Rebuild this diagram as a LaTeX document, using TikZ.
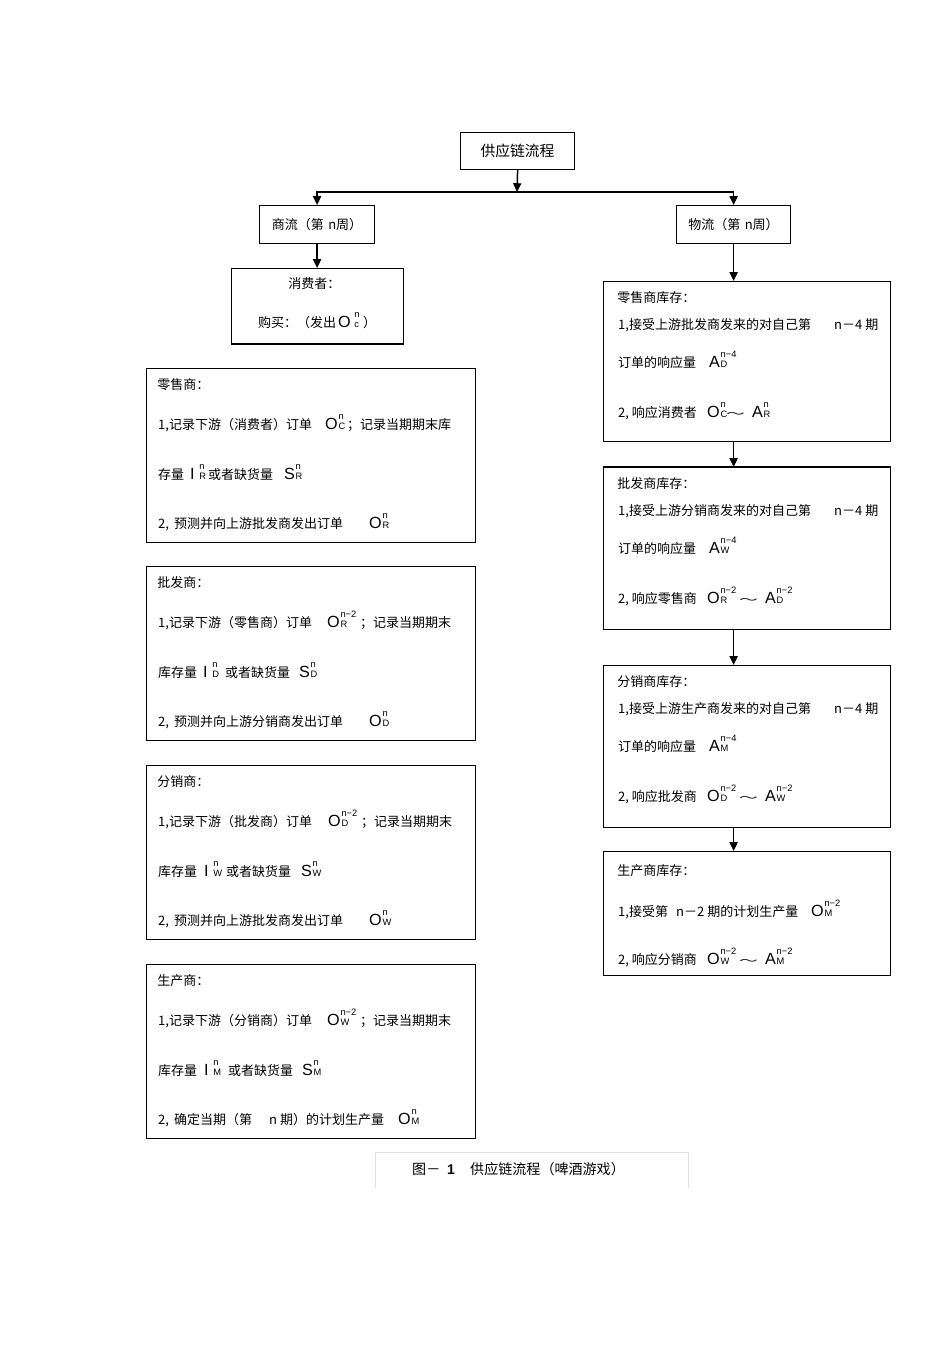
\documentclass[tikz,border=0pt]{standalone}
\usepackage{fontspec}
\setmainfont{Noto Sans CJK SC}
\newfontfamily\lat{Liberation Sans}
\usetikzlibrary{arrows.meta}
\newlength\pxu \setlength\pxu{0.02cm}
\newcommand\At[2]{\rlap{\hskip#1\pxu\relax #2}}
\newcommand\scrf{\lat\fontsize{5.3}{5.3}\selectfont}
\newcommand\Scr[2]{\setbox0\hbox{\scrf #1}\setbox2\hbox{\scrf #2}%
  \dimen0=\wd0 \ifdim\wd2>\dimen0 \dimen0=\wd2 \fi
  \hbox to\dimen0{\rlap{\raise-0.3pt\box0}\raise5.4pt\box2\hss}}
\newcommand\Sy[4][0.4pt]{{\lat\fontsize{9.2}{9.2}\selectfont #2}\kern#1\Scr{#3}{#4}}
\newcommand\Tld{\scalebox{1.45}[0.75]{～}}
\tikzset{
  box/.style={draw, line width=0.7pt, inner sep=0pt, anchor=north west, font=\fontsize{7.4}{9}\selectfont},
  txt/.style={anchor=base west, inner sep=0pt, font=\fontsize{7.4}{9}\selectfont},
  arr/.style={line width=0.85pt, -{Triangle[length=5pt,width=4.6pt]}},
  capline/.style={draw=black!12, line width=0.5pt}
}
\begin{document}
\begin{tikzpicture}[x=0.02cm, y=-0.02cm]
\useasboundingbox (0,0) rectangle (950,1345);
\fill[white] (0,0) rectangle (950,1345);

% boxes
\node[box, minimum width=2.28cm, minimum height=0.74cm, font=\fontsize{8.4}{10}\selectfont] (top) at (460,132) {供应链流程};
\node[box, minimum width=2.30cm, minimum height=0.76cm] (shang) at (259,205) {商流（第\,\,n周）};
\node[box, minimum width=2.28cm, minimum height=0.76cm] (wuliu) at (676,205) {物流（第\,\,n周）};
\node[box, minimum width=3.44cm, minimum height=1.50cm] (cons) at (231,268) {};
\node[box, minimum width=5.74cm, minimum height=3.20cm] (rR) at (603,281) {};
\node[box, minimum width=5.74cm, minimum height=3.24cm] (rW) at (603,467) {};
\node[box, minimum width=5.74cm, minimum height=3.24cm] (rD) at (603,665) {};
\node[box, minimum width=5.74cm, minimum height=2.48cm] (rM) at (603,851) {};
\node[box, minimum width=6.58cm, minimum height=3.48cm] (lR) at (146,368) {};
\node[box, minimum width=6.58cm, minimum height=3.48cm] (lW) at (146,566) {};
\node[box, minimum width=6.58cm, minimum height=3.48cm] (lD) at (146,765) {};
\node[box, minimum width=6.58cm, minimum height=3.48cm] (lM) at (146,964) {};
\node[inner sep=0pt, minimum width=6.26cm, minimum height=0.70cm, anchor=north west] (capbox) at (375,1152) {};
\draw[line width=1.2pt] (cons.south west) -- (cons.south east);
\draw[line width=1.2pt] (rW.north west) -- (rW.north east);
\draw[capline] (capbox.south west) |- (capbox.north east) -- (capbox.south east);

% connectors
\coordinate (jn) at (517,192);
\draw[arr] (top.south) -- (jn);
\draw[arr] (jn) -| (shang.north);
\draw[arr] (jn) -| (wuliu.north);
\draw[arr] (shang.south) -- (shang.south |- cons.north);
\draw[arr] (wuliu.south) -- (wuliu.south |- rR.north);
\draw[arr] (wuliu.south |- rR.south) -- (wuliu.south |- rW.north);
\draw[arr] (wuliu.south |- rW.south) -- (wuliu.south |- rD.north);
\draw[arr] (wuliu.south |- rD.south) -- (wuliu.south |- rM.north);

% consumer
\node[txt] (consA) at (288,288) {消费者：};
\node[txt] (consB) at (257,327) {\At{0}{购买：（发出}\At{80}{\Sy[2pt]{O}{c}{n}}\At{105}{）}};

% left: retailer
\node[txt] (lR1) at (157,389) {零售商：};
\node[txt] (lR2) at (157,429) {\At{0}{1,记录下游（消费者）订单}\At{167}{\Sy{O}{C}{n}}\At{189}{；记录当期期末库}};
\node[txt] (lR3) at (157,479) {\At{0}{存量}\At{32}{\Sy[2.6pt]{I}{R}{n}}\At{50}{或者缺货量}\At{126}{\Sy{S}{R}{n}}};
\node[txt] (lR4) at (157,528) {\At{0}{2,\, 预测并向上游批发商发出订单}\At{211}{\Sy{O}{R}{n}}};

% left: wholesaler
\node[txt] (lW1) at (157,587) {批发商：};
\node[txt] (lW2) at (157,627) {\At{0}{1,记录下游（零售商）订单}\At{169}{\Sy{O}{R}{n−2}}\At{202}{；记录当期期末}};
\node[txt] (lW3) at (157,677) {\At{0}{库存量}\At{45}{\Sy[2.6pt]{I}{D}{n}}\At{67}{或者缺货量}\At{141}{\Sy{S}{D}{n}}};
\node[txt] (lW4) at (157,726) {\At{0}{2,\, 预测并向上游分销商发出订单}\At{211}{\Sy{O}{D}{n}}};

% left: distributor
\node[txt] (lD1) at (157,786) {分销商：};
\node[txt] (lD2) at (157,826) {\At{0}{1,记录下游（批发商）订单}\At{170}{\Sy{O}{D}{n−2}}\At{203}{；记录当期期末}};
\node[txt] (lD3) at (157,876) {\At{0}{库存量}\At{46}{\Sy[2.6pt]{I}{W}{n}}\At{68}{或者缺货量}\At{143}{\Sy{S}{W}{n}}};
\node[txt] (lD4) at (157,925) {\At{0}{2,\, 预测并向上游批发商发出订单}\At{211}{\Sy{O}{W}{n}}};

% left: manufacturer
\node[txt] (lM1) at (157,985) {生产商：};
\node[txt] (lM2) at (157,1025) {\At{0}{1,记录下游（分销商）订单}\At{169}{\Sy{O}{W}{n−2}}\At{202}{；记录当期期末}};
\node[txt] (lM3) at (157,1075) {\At{0}{库存量}\At{46}{\Sy[2.6pt]{I}{M}{n}}\At{70}{或者缺货量}\At{144}{\Sy{S}{M}{n}}};
\node[txt] (lM4) at (157,1124) {\At{0}{2,\, 确定当期（第}\At{111}{n 期）的计划生产量}\At{240}{\Sy{O}{M}{n}}};

% right: retailer inventory
\node[txt] (rR1) at (617,302) {零售商库存：};
\node[txt] (rR2) at (617,329) {\At{0}{1,接受上游批发商发来的对自己第}\At{216}{n－4 期}};
\node[txt] (rR3) at (617,367) {\At{0}{订单的响应量}\At{91}{\Sy{A}{D}{n−4}}};
\node[txt] (rR4) at (617,417) {\At{0}{2, 响应消费者}\At{89}{\Sy{O}{C}{n}}\At{108}{\Tld}\At{134}{\Sy{A}{R}{n}}};

% right: wholesaler inventory
\node[txt] (rW1) at (617,488) {批发商库存：};
\node[txt] (rW2) at (617,515) {\At{0}{1,接受上游分销商发来的对自己第}\At{216}{n－4 期}};
\node[txt] (rW3) at (617,553) {\At{0}{订单的响应量}\At{91}{\Sy{A}{W}{n−4}}};
\node[txt] (rW4) at (617,603) {\At{0}{2, 响应零售商}\At{89}{\Sy{O}{R}{n−2}}\At{121}{\Tld}\At{147}{\Sy{A}{D}{n−2}}};

% right: distributor inventory
\node[txt] (rD1) at (617,686) {分销商库存：};
\node[txt] (rD2) at (617,713) {\At{0}{1,接受上游生产商发来的对自己第}\At{216}{n－4 期}};
\node[txt] (rD3) at (617,751) {\At{0}{订单的响应量}\At{91}{\Sy{A}{M}{n−4}}};
\node[txt] (rD4) at (617,801) {\At{0}{2, 响应批发商}\At{89}{\Sy{O}{D}{n−2}}\At{121}{\Tld}\At{147}{\Sy{A}{W}{n−2}}};

% right: manufacturer inventory
\node[txt] (rM1) at (617,875) {生产商库存：};
\node[txt] (rM2) at (617,916) {\At{0}{1,接受第}\At{58}{n－2 期的计划生产量}\At{193}{\Sy{O}{M}{n−2}}};
\node[txt] (rM3) at (617,964) {\At{0}{2, 响应分销商}\At{89}{\Sy{O}{W}{n−2}}\At{121}{\Tld}\At{147}{\Sy{A}{M}{n−2}}};

% caption
\node[txt, font=\fontsize{8}{10}\selectfont] (cap) at (411,1174) {\At{0}{图－}\At{35}{{\lat\bfseries 1}}\At{58}{供应链流程（啤酒游戏）}};
\end{tikzpicture}
\end{document}
